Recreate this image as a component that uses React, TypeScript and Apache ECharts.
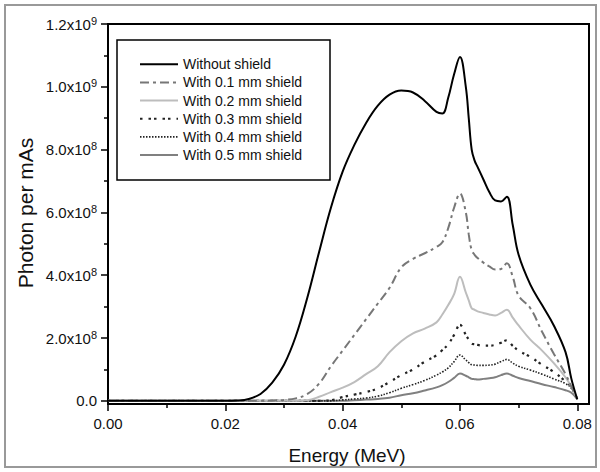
import React, { useEffect, useRef } from "react";
import * as echarts from "echarts";

const energy = [0, 0.02, 0.022, 0.024, 0.026, 0.028, 0.03, 0.032, 0.034, 0.036, 0.038, 0.04, 0.042, 0.044, 0.046, 0.048, 0.05, 0.052, 0.054, 0.056, 0.057, 0.058, 0.059, 0.06, 0.061, 0.0615, 0.062, 0.0625, 0.063, 0.064, 0.065, 0.066, 0.067, 0.068, 0.069, 0.07, 0.072, 0.074, 0.076, 0.078, 0.079, 0.08];

const noShield = [0, 0, 1e6, 6e6, 2.2e7, 5.8e7, 1.15e8, 2.05e8, 3.3e8, 4.75e8, 6.15e8, 7.3e8, 8.15e8, 8.85e8, 9.4e8, 9.75e8, 9.88e8, 9.82e8, 9.55e8, 9.2e8, 9.15e8, 9.65e8, 1.04e9, 1.095e9, 1.0e9, 9.0e8, 8.0e8, 7.65e8, 7.45e8, 7.05e8, 6.65e8, 6.38e8, 6.35e8, 6.5e8, 5.6e8, 4.65e8, 3.7e8, 3.05e8, 2.4e8, 1.55e8, 7e7, 5e6];
const shield01 = [0, 0, 0, 0, 0, 1e6, 3e6, 8e6, 2.2e7, 5.5e7, 1.1e8, 1.6e8, 2.1e8, 2.6e8, 3.1e8, 3.6e8, 4.25e8, 4.52e8, 4.7e8, 4.9e8, 5.05e8, 5.5e8, 6.15e8, 6.6e8, 6.0e8, 5.3e8, 4.8e8, 4.65e8, 4.55e8, 4.4e8, 4.28e8, 4.18e8, 4.2e8, 4.38e8, 3.95e8, 3.35e8, 2.95e8, 2.2e8, 1.5e8, 8.5e7, 4.5e7, 5e6];
const shield02 = [0, 0, 0, 0, 0, 0, 0, 0, 2e6, 1.3e7, 2.8e7, 4.2e7, 6e7, 8.5e7, 1.1e8, 1.55e8, 1.9e8, 2.15e8, 2.3e8, 2.5e8, 2.75e8, 3.05e8, 3.4e8, 3.95e8, 3.45e8, 3.2e8, 2.95e8, 2.9e8, 2.85e8, 2.8e8, 2.75e8, 2.72e8, 2.8e8, 2.9e8, 2.65e8, 2.4e8, 1.95e8, 1.6e8, 1.2e8, 7.5e7, 4.5e7, 5e6];
const shield03 = [0, 0, 0, 0, 0, 0, 0, 0, 0, 0, 2e6, 1.2e7, 2e7, 2.8e7, 4e7, 6e7, 8.2e7, 1.0e8, 1.25e8, 1.45e8, 1.62e8, 1.8e8, 2.1e8, 2.42e8, 2.1e8, 1.95e8, 1.82e8, 1.8e8, 1.78e8, 1.76e8, 1.76e8, 1.78e8, 1.85e8, 1.93e8, 1.75e8, 1.6e8, 1.4e8, 1.15e8, 9.2e7, 6.2e7, 4.5e7, 5e6];
const shield04 = [0, 0, 0, 0, 0, 0, 0, 0, 0, 0, 0, 3e6, 6e6, 9e6, 1.5e7, 2.6e7, 4e7, 5.2e7, 6.5e7, 8.2e7, 9.2e7, 1.05e8, 1.25e8, 1.46e8, 1.3e8, 1.22e8, 1.15e8, 1.14e8, 1.13e8, 1.13e8, 1.14e8, 1.17e8, 1.25e8, 1.32e8, 1.2e8, 1.1e8, 9.8e7, 8.5e7, 7e7, 5.5e7, 4e7, 5e6];
const shield05 = [0, 0, 0, 0, 0, 0, 0, 0, 0, 0, 0, 0, 2e6, 4e6, 6e6, 1e7, 1.8e7, 2.4e7, 3.3e7, 4.3e7, 5e7, 6e7, 7.3e7, 8.7e7, 8e7, 7.5e7, 7e7, 6.9e7, 6.8e7, 7e7, 7.2e7, 7.5e7, 8.2e7, 8.7e7, 8e7, 7.3e7, 6.3e7, 5.3e7, 4.4e7, 3.4e7, 2.6e7, 5e6];

const seriesNames = ["Without shield", "With 0.1 mm shield", "With 0.2 mm shield", "With 0.3 mm shield", "With 0.4 mm shield", "With 0.5 mm shield"];

const xTicks = [0, 0.02, 0.04, 0.06, 0.08];
const xMinorTicks = [0.01, 0.03, 0.05, 0.07];
const yTicks = [0, 2e8, 4e8, 6e8, 8e8, 1e9, 1.2e9];
const yMinorTicks = [1e8, 3e8, 5e8, 7e8, 9e8, 1.1e9];

const FONT = "'Liberation Sans', Arial, sans-serif";

function yLabel(v: number): string {
  if (v === 0) return "{b|0.0}";
  const exp = Math.floor(Math.log10(v) + 1e-9);
  const mant = v / Math.pow(10, exp);
  return `{b|${mant.toFixed(1)}x10}{s|${exp}}`;
}

export default function App() {
  const ref = useRef<HTMLDivElement>(null);
  useEffect(() => {
    if (!ref.current) return;
    const chart = echarts.init(ref.current, undefined, { renderer: "svg" });
    const styles: { color: string; width: number; dash: number[] | null }[] = [
      { color: "#000000", width: 2, dash: null },
      { color: "#777777", width: 2, dash: [9, 4, 3, 4] },
      { color: "#bdbdbd", width: 2, dash: null },
      { color: "#222222", width: 2.2, dash: [2.5, 6, 2.5, 3] },
      { color: "#222222", width: 1.6, dash: [1.5, 1.5] },
      { color: "#808080", width: 2, dash: null },
    ];
    const values = [noShield, shield01, shield02, shield03, shield04, shield05];
    const series = seriesNames.map((name, i) => ({
      name,
      type: "line",
      xAxisIndex: 0,
      yAxisIndex: 0,
      data: energy.map((e, j) => [e, values[i][j]]),
      symbol: "none",
      showSymbol: false,
      smooth: 0.4,
      z: 10 - i,
      lineStyle: { color: styles[i].color, width: styles[i].width, type: styles[i].dash ? styles[i].dash : "solid" },
    }));

    const legendItems: any[] = [];
    seriesNames.forEach((name, i) => {
      const y = 64.3 + i * 18.15;
      legendItems.push({
        type: "line",
        z: 101,
        shape: { x1: 140, y1: y, x2: 178, y2: y },
        style: { stroke: styles[i].color, lineWidth: styles[i].width, lineDash: styles[i].dash || undefined },
      });
      legendItems.push({
        type: "text",
        z: 101,
        x: 183,
        y: y,
        style: { text: name, fontSize: 14, fill: "#111", fontFamily: FONT, verticalAlign: "middle", align: "left" },
      });
    });

    chart.setOption({
      animation: false,
      textStyle: { fontFamily: FONT },
      grid: { left: 108, top: 24, width: 481, height: 380, show: true, borderColor: "#000", borderWidth: 2, backgroundColor: "transparent" },
      xAxis: [
        {
          type: "value",
          min: 0,
          max: 0.082,
          axisLine: { onZero: false, lineStyle: { color: "#000", width: 2 } },
          axisTick: { customValues: xTicks, length: 7, lineStyle: { color: "#000", width: 1.5 } },
          axisLabel: { customValues: xTicks, formatter: (v: number) => v.toFixed(2), fontSize: 15, color: "#111", margin: 12, fontFamily: FONT },
          splitLine: { show: false },
        },
        {
          type: "value",
          min: 0,
          max: 0.082,
          position: "bottom",
          axisLine: { show: false, onZero: false },
          axisTick: { customValues: xMinorTicks, length: 4, lineStyle: { color: "#000", width: 1.5 } },
          axisLabel: { show: false },
          splitLine: { show: false },
        },
      ],
      yAxis: [
        {
          type: "value",
          min: -1e7,
          max: 1.2e9,
          axisLine: { onZero: false, lineStyle: { color: "#000", width: 2 } },
          axisTick: { customValues: yTicks, length: 7, lineStyle: { color: "#000", width: 1.5 } },
          axisLabel: {
            customValues: yTicks,
            formatter: yLabel,
            margin: 11,
            fontSize: 15,
            color: "#111",
            fontFamily: FONT,
            rich: {
              b: { fontSize: 15, lineHeight: 18, color: "#111", fontFamily: FONT },
              s: { fontSize: 11, lineHeight: 11, verticalAlign: "top", color: "#111", fontFamily: FONT },
            },
          },
          splitLine: { show: false },
        },
        {
          type: "value",
          min: -1e7,
          max: 1.2e9,
          position: "left",
          axisLine: { show: false, onZero: false },
          axisTick: { customValues: yMinorTicks, length: 4, lineStyle: { color: "#000", width: 1.5 } },
          axisLabel: { show: false },
          splitLine: { show: false },
        },
      ],
      graphic: [
        { type: "rect", z: 0, shape: { x: 5, y: 5, width: 591, height: 462 }, style: { fill: "none", stroke: "#999", lineWidth: 2 }, silent: true },
        { type: "rect", z: 100, shape: { x: 117, y: 40, width: 213, height: 140 }, style: { fill: "#fff", stroke: "#000", lineWidth: 1.5 } },
        ...legendItems,
        { type: "text", x: 347, y: 455, style: { text: "Energy (MeV)", fontSize: 19, fill: "#111", fontFamily: FONT, align: "center", verticalAlign: "middle" } },
        { type: "text", x: 25, y: 213, rotation: Math.PI / 2, style: { text: "Photon per mAs", fontSize: 21, fill: "#111", fontFamily: FONT, align: "center", verticalAlign: "middle" } },
      ],
      series,
    });
    return () => chart.dispose();
  }, []);
  return <div ref={ref} style={{ width: 600, height: 472, position: "absolute", left: 0, top: 0 }} />;
}
